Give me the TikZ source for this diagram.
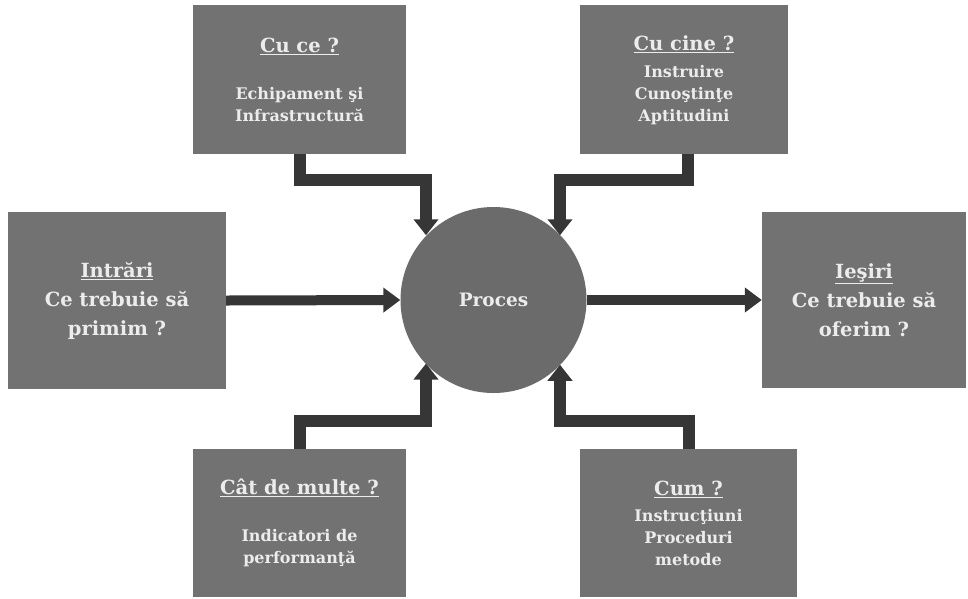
\documentclass[tikz,border=0pt]{standalone}
\usepackage{fontspec}
\setmainfont{DejaVu Serif}
\usetikzlibrary{arrows.meta}
\definecolor{boxgray}{HTML}{727272}
\definecolor{circgray}{HTML}{6B6B6B}
\definecolor{arrowgray}{HTML}{363636}
\definecolor{txtcol}{HTML}{ECECEC}
\newcommand{\boxtitle}[1]{{\fontsize{19.5}{24}\selectfont\underline{#1}}}
\begin{document}
\begin{tikzpicture}[x=1pt,y=-1pt,
  gbox/.style={fill=boxgray, draw=none, inner sep=0pt, align=center, text=txtcol,
    font=\bfseries\fontsize{16}{22}\selectfont},
  bigbox/.style={gbox, font=\bfseries\fontsize{19.5}{29}\selectfont},
  elbow/.style={draw=arrowgray, line width=12pt, -{Triangle[length=16pt,width=24pt]}},
  straight/.style={draw=arrowgray, line width=10pt, -{Triangle[length=17pt,width=24pt]}}
]
\useasboundingbox (0,0) rectangle (968,598);
\fill[white] (0,0) rectangle (968,598);

\node[gbox, minimum width=213pt, minimum height=149pt] (tl) at (299.5,79.5)
  {\rule{0pt}{8pt}\\[-14pt]\boxtitle{Cu ce ?}\\[25pt]Echipament şi\\Infrastructură};
\node[gbox, minimum width=208pt, minimum height=149pt] (tr) at (684,79.5)
  {\rule{0pt}{8pt}\\[-14pt]\boxtitle{Cu cine ?}\\[5pt]Instruire\\Cunoştinţe\\Aptitudini};
\node[bigbox, minimum width=218pt, minimum height=177pt] (in) at (117,300.5)
  {\underline{Intrări}\\Ce trebuie să\\primim ?};
\node[bigbox, minimum width=204pt, minimum height=176pt] (out) at (864,300)
  {\underline{Ieşiri}\\Ce trebuie să\\oferim ?};
\node[gbox, minimum width=213pt, minimum height=148pt] (bl) at (299.5,523)
  {\boxtitle{Cât de multe ?}\\[25pt]Indicatori de\\performanţă};
\node[gbox, minimum width=217pt, minimum height=148pt] (br) at (688.5,523)
  {\boxtitle{Cum ?}\\[4pt]Instrucţiuni\\Proceduri\\metode};

\node[circle, fill=circgray, minimum size=186pt, inner sep=0pt, text=txtcol,
  font=\bfseries\fontsize{18.5}{22}\selectfont] (proc) at (493.5,300) {Proces};

\coordinate (tlk) at (426,180);
\coordinate (trk) at (560,180);
\coordinate (blk) at (426,421);
\coordinate (brk) at (560,421);

\draw[elbow] (tl.south) |- (tlk) -- (tlk |- proc.136.5);
\draw[elbow] ([xshift=4pt]tr.south) |- (trk) -- (trk |- proc.44);
\draw[elbow] (bl.north) |- (blk) -- (blk |- proc.223.5);
\draw[elbow] (br.north) |- (brk) -- (brk |- proc.316);

\draw[straight] (in.east) -- (proc.west);
\draw[straight] (proc.east) -- (out.west);
\end{tikzpicture}
\end{document}
